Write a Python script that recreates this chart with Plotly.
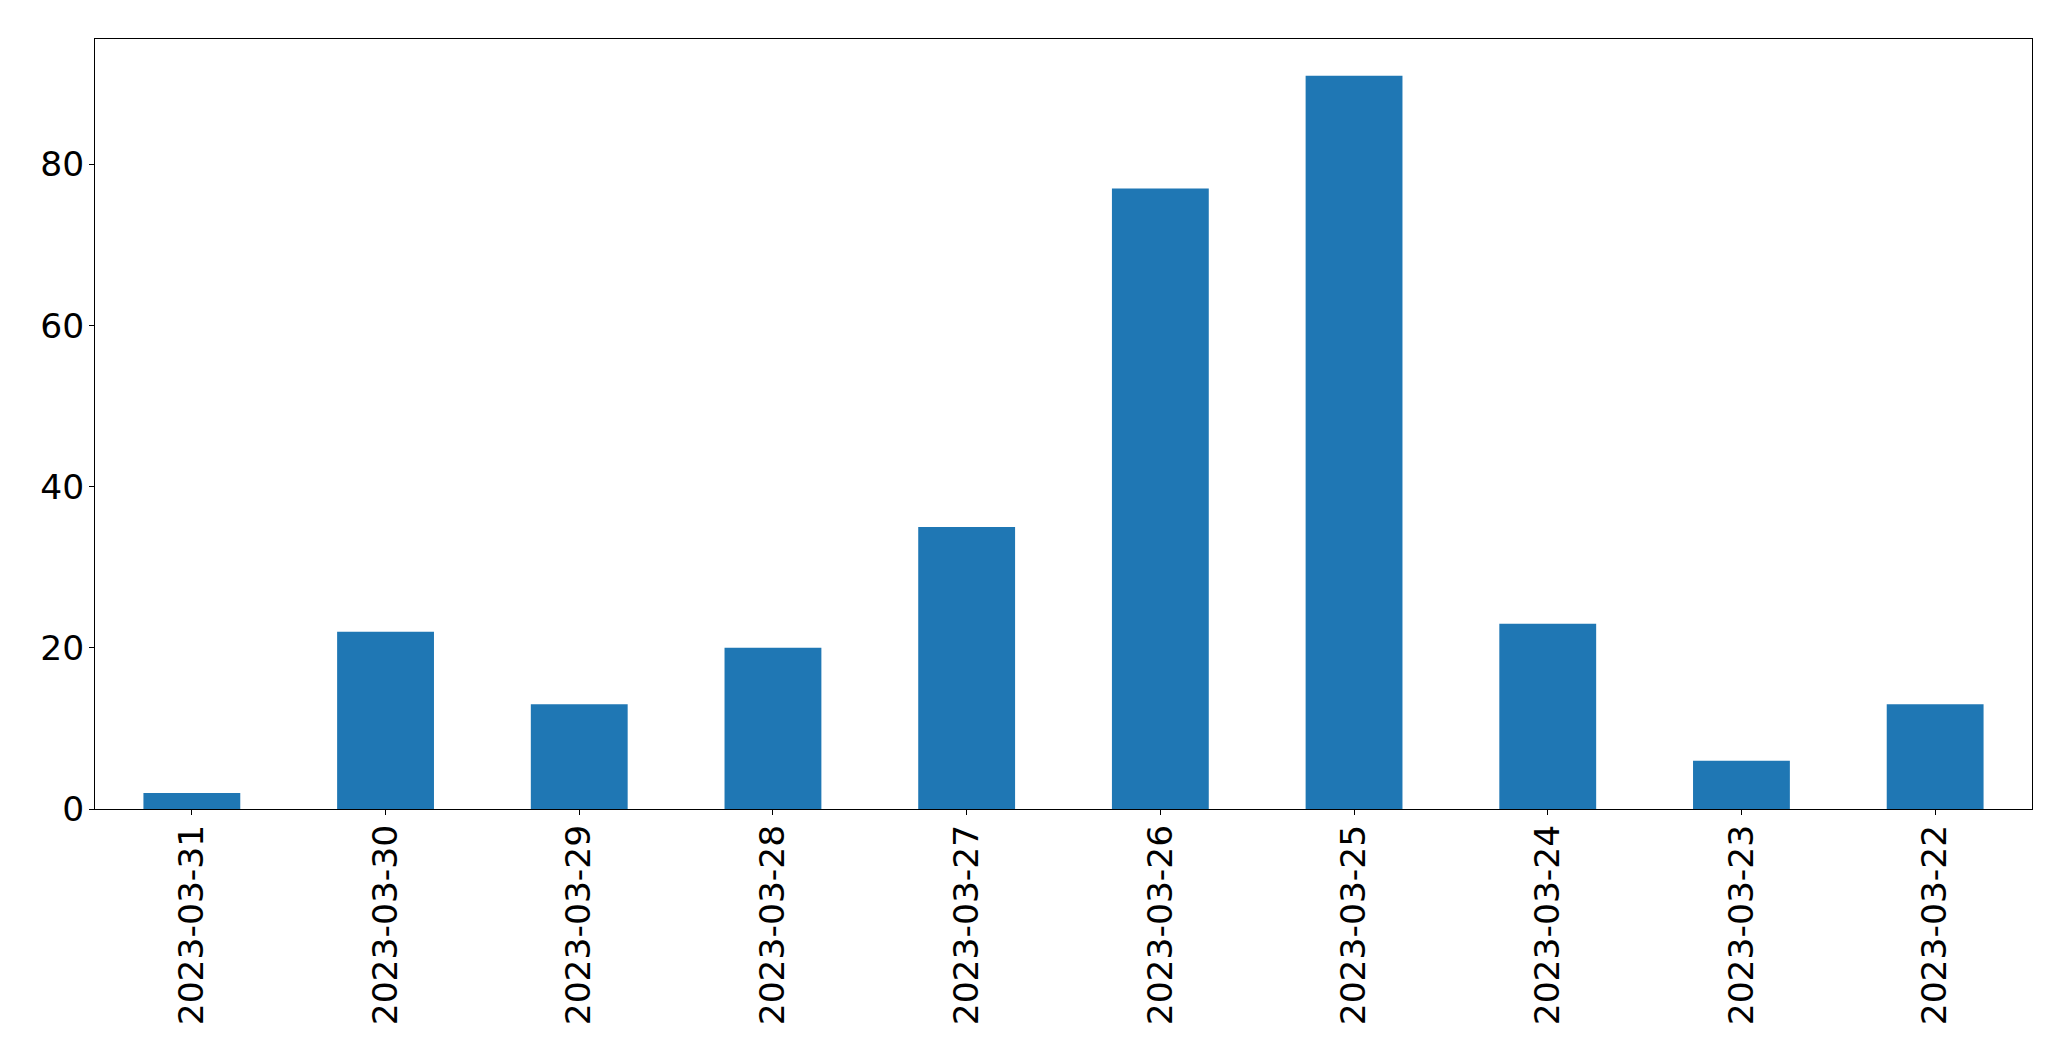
import plotly.graph_objects as go

dates = ["2023-03-31", "2023-03-30", "2023-03-29", "2023-03-28", "2023-03-27",
         "2023-03-26", "2023-03-25", "2023-03-24", "2023-03-23", "2023-03-22"]
counts = [2, 22, 13, 20, 35, 77, 91, 23, 6, 13]
y_ticks = [0, 20, 40, 60, 80]

fig = go.Figure(go.Bar(x=dates, y=counts, width=0.5, marker=dict(color="#1f77b4", line=dict(width=0))))

fig.update_layout(
    width=2071, height=1061,
    margin=dict(l=95, r=39, t=39, b=252, pad=0),
    paper_bgcolor="white", plot_bgcolor="white",
    font=dict(family="DejaVu Sans", size=34.5, color="black"),
    showlegend=False,
)
fig.update_xaxes(
    type="category", range=[-0.5, 9.5],
    showline=True, linecolor="black", linewidth=1, mirror=True,
    ticks="outside", ticklen=5, tickwidth=1, tickcolor="black",
    tickangle=-90, showgrid=False, zeroline=False,
    ticklabelstandoff=-4,
)
fig.update_yaxes(
    range=[0, 95.55], tickvals=y_ticks,
    showline=True, linecolor="black", linewidth=1, mirror=True,
    ticks="outside", ticklen=5, tickwidth=1, tickcolor="black",
    showgrid=False, zeroline=False,
    ticklabelstandoff=-2,
)
fig.write_html("out.html")
